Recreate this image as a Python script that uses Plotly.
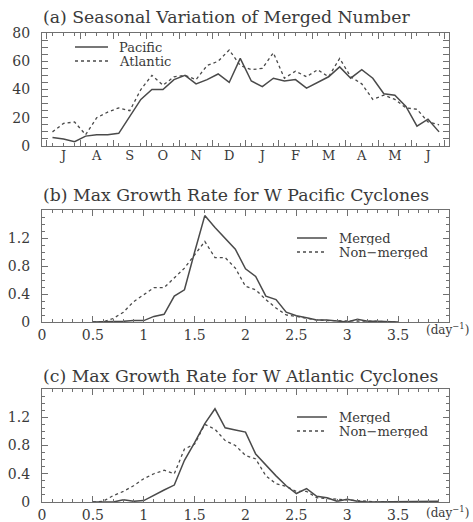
import plotly.graph_objects as go

# ---------------- data ----------------
months = ["J", "A", "S", "O", "N", "D", "J", "F", "M", "A", "M", "J"]
dekads = list(range(36))  # 10-day periods from early July to late June

pacific = [6, 5, 3, 7, 8, 8, 9, 21, 33, 40, 40, 47, 50, 44, 47, 51, 45, 62,
           46, 42, 48, 46, 47, 41, 45, 49, 56, 48, 54, 48, 37, 36, 28, 14, 19, 10]
atlantic = [10, 16, 17, 8, 20, 24, 27, 25, 40, 50, 43, 49, 50, 47, 57, 60, 68, 57,
            54, 55, 66, 48, 53, 49, 54, 49, 62, 49, 44, 33, 36, 33, 27, 26, 17, 15]

rate_b = [0.5, 0.6, 0.7, 0.8, 0.9, 1.0, 1.1, 1.2, 1.3, 1.4, 1.5, 1.6, 1.7, 1.8, 1.9,
          2.0, 2.1, 2.2, 2.3, 2.4, 2.5, 2.6, 2.7, 2.8, 2.9, 3.0, 3.1, 3.2, 3.3, 3.4, 3.5]
pac_merged = [0.0, 0.0, 0.0, 0.01, 0.02, 0.02, 0.08, 0.11, 0.37, 0.46, 1.0, 1.52, 1.35, 1.2, 1.04,
              0.76, 0.65, 0.37, 0.32, 0.14, 0.09, 0.06, 0.03, 0.03, 0.02, 0.0, 0.04, 0.01, 0.01, 0.01, 0.0]
pac_nonmerged = [0.0, 0.0, 0.05, 0.14, 0.29, 0.39, 0.49, 0.49, 0.63, 0.77, 0.96, 1.15, 0.92, 0.92, 0.77,
                 0.51, 0.46, 0.32, 0.2, 0.1, 0.08, 0.05, 0.03, 0.02, 0.02, 0.01, 0.02, 0.01, 0.01, 0.0, 0.0]

rate_c = [0.5, 0.6, 0.7, 0.8, 0.9, 1.0, 1.1, 1.2, 1.3, 1.4, 1.5, 1.6, 1.7, 1.8, 1.9,
          2.0, 2.1, 2.2, 2.3, 2.4, 2.5, 2.6, 2.7, 2.8, 2.9, 3.0, 3.1, 3.2, 3.3, 3.4, 3.5,
          3.6, 3.7, 3.8, 3.9]
atl_merged = [0.0, 0.0, 0.0, 0.03, 0.01, 0.02, 0.1, 0.17, 0.24, 0.59, 0.84, 1.11, 1.32, 1.05, 1.02,
              0.99, 0.68, 0.52, 0.37, 0.23, 0.12, 0.19, 0.08, 0.06, 0.01, 0.04, 0.01, 0.0, 0.0, 0.0,
              0.0, 0.0, 0.0, 0.0, 0.01]
atl_nonmerged = [0.0, 0.01, 0.09, 0.15, 0.23, 0.33, 0.4, 0.45, 0.4, 0.75, 0.82, 1.1, 1.03, 0.87, 0.8,
                 0.66, 0.61, 0.37, 0.26, 0.22, 0.15, 0.15, 0.06, 0.05, 0.03, 0.03, 0.01, 0.01, 0.0, 0.0,
                 0.0, 0.0, 0.0, 0.0, 0.0]

titles = ["(a) Seasonal Variation of Merged Number",
          "(b) Max Growth Rate for W Pacific Cyclones",
          "(c) Max Growth Rate for W Atlantic Cyclones"]
legend_a = ["Pacific", "Atlantic"]
legend_bc = ["Merged", "Non−merged"]
rate_ticks = [0, 0.5, 1, 1.5, 2, 2.5, 3, 3.5]
rate_ticktext = ["0", "0.5", "1", "1.5", "2", "2.5", "3", "3.5"]
growth_ticks = [0, 0.4, 0.8, 1.2]
count_ticks = [0, 20, 40, 60, 80]

# ---------------- style ----------------
W, H = 473, 522
FONT = "DejaVu Serif"
LINE = "#4a4a4a"
AXC = "#707070"
TXT = "#3a3a3a"
L_PX, R_PX = 42, 449
panels_px = [(33, 146), (210, 322), (389, 502)]  # top, bottom


def ydom(top, bot):
    return [1 - bot / H, 1 - top / H]


xdom = [L_PX / W, R_PX / W]

fig = go.Figure()

solid = dict(color=LINE, width=1.5)
dashed = dict(color=LINE, width=1.3, dash="3px,3px")

# (a)
fig.add_trace(go.Scatter(x=dekads, y=pacific, mode="lines", line=solid, name=legend_a[0],
                         xaxis="x", yaxis="y", showlegend=False))
fig.add_trace(go.Scatter(x=dekads, y=atlantic, mode="lines", line=dashed, name=legend_a[1],
                         xaxis="x", yaxis="y", showlegend=False))
# carrier for the month-label overlay axis (invisible)
fig.add_trace(go.Scatter(x=[dekads[0]], y=[0], mode="markers", marker=dict(opacity=0),
                         xaxis="x4", yaxis="y", showlegend=False, hoverinfo="skip"))
# (b)
fig.add_trace(go.Scatter(x=rate_b, y=pac_merged, mode="lines", line=solid, name=legend_bc[0],
                         xaxis="x2", yaxis="y2", showlegend=False))
fig.add_trace(go.Scatter(x=rate_b, y=pac_nonmerged, mode="lines", line=dashed, name=legend_bc[1],
                         xaxis="x2", yaxis="y2", showlegend=False))
# (c)
fig.add_trace(go.Scatter(x=rate_c, y=atl_merged, mode="lines", line=solid, name=legend_bc[0],
                         xaxis="x3", yaxis="y3", showlegend=False))
fig.add_trace(go.Scatter(x=rate_c, y=atl_nonmerged, mode="lines", line=dashed, name=legend_bc[1],
                         xaxis="x3", yaxis="y3", showlegend=False))

tickfont = dict(family=FONT, size=14, color=TXT)
common_axis = dict(showline=True, linecolor=AXC, linewidth=1.2, mirror="allticks",
                   ticks="inside", ticklen=6, tickwidth=1, tickcolor=AXC, automargin=False,
                   showgrid=False, zeroline=False, tickfont=tickfont, fixedrange=True)

month_bounds = [d - 0.5 for d in dekads[::3]] + [dekads[-1] + 0.5]
month_centers = dekads[1::3]
xr_a = [-0.95, 35.9]
minor_tick = dict(ticks="inside", ticklen=3, tickcolor=AXC)

layout = dict(
    width=W, height=H, margin=dict(l=0, r=0, t=0, b=0, autoexpand=False),
    paper_bgcolor="white", plot_bgcolor="white", showlegend=False,
    xaxis=dict(common_axis, domain=xdom, anchor="y", range=xr_a,
               tickmode="array", tickvals=month_bounds, showticklabels=False,
               minor=dict(minor_tick, tickmode="array", tickvals=dekads)),
    xaxis4=dict(domain=xdom, anchor="y", overlaying="x", range=xr_a, showline=False,
                showgrid=False, zeroline=False, ticks="", tickmode="array", automargin=False,
                tickvals=month_centers, ticktext=months, tickfont=dict(family=FONT, size=13, color=TXT),
                side="bottom", fixedrange=True),
    yaxis=dict(common_axis, domain=ydom(*panels_px[0]), anchor="x", range=[0, 80],
               tickmode="array", tickvals=count_ticks, ticklabelstandoff=8,
               minor=dict(minor_tick, dtick=5)),
    xaxis2=dict(common_axis, domain=xdom, anchor="y2", range=[0, 4], tickmode="array",
                tickvals=rate_ticks, ticktext=rate_ticktext,
                minor=dict(minor_tick, dtick=0.1)),
    yaxis2=dict(common_axis, domain=ydom(*panels_px[1]), anchor="x2", range=[0, 1.6],
                tickmode="array", tickvals=growth_ticks, ticklabelstandoff=8,
                minor=dict(minor_tick, dtick=0.1)),
    xaxis3=dict(common_axis, domain=xdom, anchor="y3", range=[0, 4], tickmode="array",
                tickvals=rate_ticks, ticktext=rate_ticktext,
                minor=dict(minor_tick, dtick=0.1)),
    yaxis3=dict(common_axis, domain=ydom(*panels_px[2]), anchor="x3", range=[0, 1.6],
                tickmode="array", tickvals=growth_ticks, ticklabelstandoff=8,
                minor=dict(minor_tick, dtick=0.1)),
)
fig.update_layout(**layout)

titlefont = dict(family=FONT, size=17.3, color=TXT)
title_y = [17, 195, 376]
annotations = []
for t, ty in zip(titles, title_y):
    annotations.append(dict(text=t, xref="paper", yref="paper", x=L_PX / W - 0.002, y=1 - ty / H,
                            xanchor="left", yanchor="middle", showarrow=False, font=titlefont))

# unit labels on the x axes of (b) and (c)
for yy in (329, 512):
    annotations.append(dict(text="(day<sup>−1</sup>)", xref="paper", yref="paper",
                            x=471 / W, y=1 - yy / H, xanchor="right", yanchor="middle",
                            showarrow=False, font=dict(family=FONT, size=12, color=TXT)))

# legends drawn as line samples + labels
legfont = dict(family=FONT, size=13, color=TXT)
legend_specs = [
    (legend_a, 75, 108, 117, [47, 61]),
    (legend_bc, 297, 327, 337, [238, 252]),
    (legend_bc, 297, 327, 337, [417, 431]),
]
shapes = []
for labels, x0, x1, xt, ys in legend_specs:
    for i, (lab, yy) in enumerate(zip(labels, ys)):
        st = solid if i == 0 else dashed
        shapes.append(dict(type="line", xref="paper", yref="paper", x0=x0 / W, x1=x1 / W,
                           y0=1 - yy / H, y1=1 - yy / H,
                           line=dict(color=st["color"], width=st["width"], dash=st.get("dash", "solid"))))
        annotations.append(dict(text=lab, xref="paper", yref="paper", x=xt / W, y=1 - yy / H,
                                xanchor="left", yanchor="middle", showarrow=False, font=legfont,
                                height=14))

fig.update_layout(annotations=annotations, shapes=shapes)
fig.write_html("out.html", config={"displayModeBar": False},
               post_script="document.body.style.margin='0';")
